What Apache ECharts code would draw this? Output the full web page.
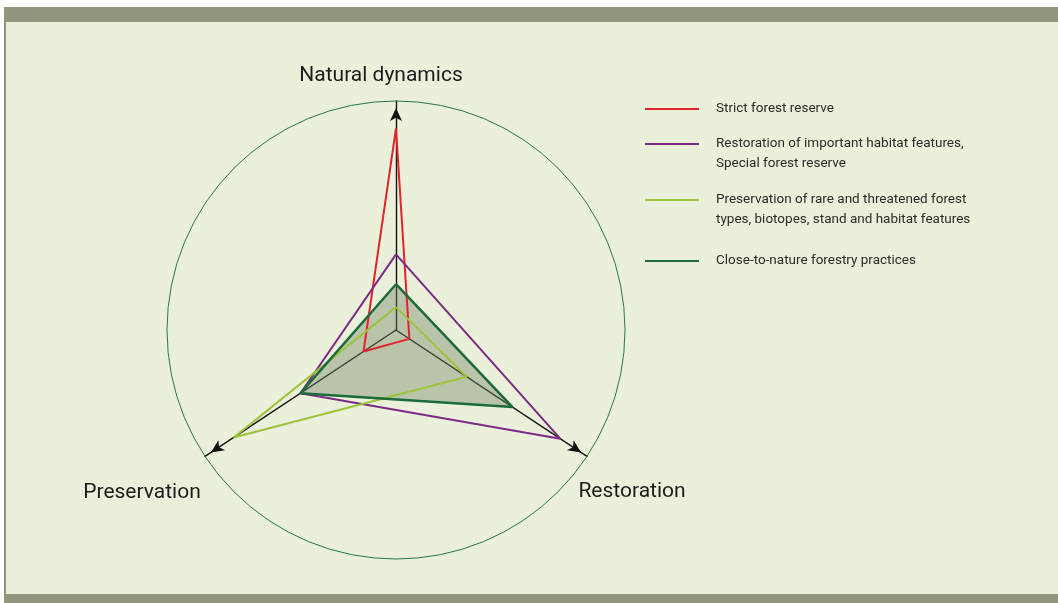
<!DOCTYPE html>
<html>
<head>
<meta charset="UTF-8">
<title>Forest management approaches</title>
<script src="https://cdn.jsdelivr.net/npm/echarts@6/dist/echarts.min.js"></script>
<style>
    html, body { margin: 0; padding: 0; background: #fff; }
    #frame {
        position: absolute; left: 4px; top: 7px; width: 1052px; height: 572px;
        background: #ebf0da;
        border-top: 15px solid #92967f;
        border-left: 2px solid #92967f;
        border-bottom: 9px solid #92967f;
    }
    #view { position: absolute; left: 0; top: 0; width: 1058px; height: 603px; }
</style>
</head>
<body>
<div id="frame"></div>
<div id="view"></div>
<script type="text/javascript">
    // the three axes, angle measured clockwise from the top
    var axisNames = ['Natural dynamics', 'Restoration', 'Preservation'];
    var axisAngles = [0, 123.5, 236.5];

    var seriesNames = [
        'Strict forest reserve',
        'Restoration of important habitat features,\nSpecial forest reserve',
        'Preservation of rare and threatened forest\ntypes, biotopes, stand and habitat features',
        'Close-to-nature forestry practices'
    ];
    var seriesColors = ['#e3232b', '#7b2a85', '#9cc43a', '#1b6b3b'];

    // values per axis: natural dynamics, restoration, preservation
    var strictReserve = [8.8, 0.7, 1.7];
    var restorationFeatures = [3.3, 8.6, 5.0];
    var rarePreservation = [1.0, 3.7, 8.5];
    var closeToNature = [2.0, 6.1, 5.0];

    var font = 'Roboto';
    var center = [396, 330];
    var radius = 229;

    // [radius, angle] pairs, first point repeated to close the shape
    function toPolar(values) {
        var pts = values.map(function (v, i) { return [v, axisAngles[i]]; });
        pts.push(pts[0].slice());
        return pts;
    }

    var myChart = echarts.init(document.getElementById('view'), null, { renderer: 'canvas' });

    var series = [strictReserve, restorationFeatures, rarePreservation, closeToNature].map(function (vals, i) {
        var s = {
            type: 'line',
            name: seriesNames[i],
            coordinateSystem: 'polar',
            polarIndex: 0,
            data: toPolar(vals),
            symbol: 'none',
            clip: false,
            color: seriesColors[i],
            lineStyle: { color: seriesColors[i], width: 2 },
            silent: true
        };
        if (i === 3) {
            s.lineStyle.width = 2.5;
            s.areaStyle = { color: 'rgb(110,130,100)', opacity: 0.4 };
        }
        return s;
    });

    // one legend per entry so each can sit where the original puts it
    var legendIconY = [109, 144, 200, 261];
    var legends = seriesNames.map(function (name, i) {
        var twoLines = name.indexOf('\n') >= 0;
        return {
            data: [name],
            left: 645,
            top: legendIconY[i] - (twoLines ? 30 : 10),
            orient: 'vertical',
            padding: 0,
            icon: 'rect',
            itemWidth: 54,
            itemHeight: 2,
            itemStyle: { borderWidth: 0 },
            selectedMode: false,
            // blank first line keeps the first text line level with the icon
            formatter: function (n) { return twoLines ? '\n' + n : n; },
            textStyle: {
                fontFamily: font, fontSize: 13.5, lineHeight: 20, color: '#2b2b2b',
                padding: [0, 0, 0, 12]
            }
        };
    });

    var nameStyle = function (txt) {
        return { text: txt, font: '21px ' + font, fill: '#1c1c1c', align: 'center', textAlign: 'center', verticalAlign: 'middle', textVerticalAlign: 'middle' };
    };

    var option = {
        animation: false,
        polar: axisAngles.map(function () {
            return { center: center, radius: radius };
        }),
        angleAxis: axisAngles.map(function (a, i) {
            return {
                polarIndex: i,
                type: 'value', min: 0, max: 360,
                startAngle: 90 - a, clockwise: true,
                axisLine: { show: i === 0, lineStyle: { color: '#24784a', width: 1 } },
                axisTick: { show: false },
                axisLabel: { show: false },
                splitLine: { show: false }
            };
        }),
        radiusAxis: axisAngles.map(function (a, i) {
            return {
                polarIndex: i,
                type: 'value', min: 0, max: 10,
                axisLine: {
                    show: true,
                    symbol: ['none', 'arrow'],
                    symbolSize: [9, 13],
                    symbolOffset: [0, -7],
                    lineStyle: { color: '#111', width: 1.4 }
                },
                axisTick: { show: false },
                axisLabel: { show: false },
                splitLine: { show: false }
            };
        }),
        legend: legends,
        graphic: [
            { type: 'text', x: 381, y: 76, style: nameStyle(axisNames[0]) },
            { type: 'text', x: 632, y: 492, style: nameStyle(axisNames[1]) },
            { type: 'text', x: 142, y: 493, style: nameStyle(axisNames[2]) }
        ],
        series: series
    };
    myChart.setOption(option);
</script>
</body>
</html>
